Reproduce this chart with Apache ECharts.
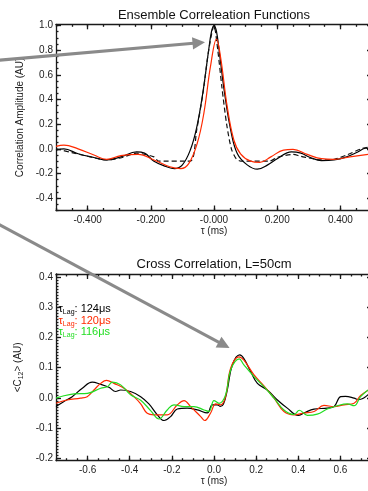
<!DOCTYPE html>
<html><head><meta charset="utf-8">
<script src="https://cdn.jsdelivr.net/npm/echarts@6/dist/echarts.min.js"></script>
<style>html,body{margin:0;padding:0;background:#fff;}#c{width:368px;height:491px;}</style>
</head><body><div id="c"></div><script>
// ---------- Ensemble correlation functions (top) ----------
const ensTauBlack = [-0.50,-0.475,-0.43,-0.38,-0.34,-0.295,-0.245,-0.22,-0.19,-0.15,-0.125,-0.10,-0.075,-0.055,-0.035,-0.018,-0.008,0.0,0.008,0.018,0.033,0.053,0.074,0.105,0.137,0.17,0.20,0.245,0.275,0.305,0.34,0.38,0.42,0.455,0.48,0.50];
const ensAmpBlack = [-0.01,0.0,-0.04,-0.07,-0.09,-0.065,-0.025,-0.035,-0.10,-0.145,-0.16,-0.13,-0.01,0.17,0.46,0.78,0.95,1.0,0.95,0.76,0.46,0.15,-0.04,-0.13,-0.165,-0.13,-0.08,-0.025,-0.035,-0.07,-0.095,-0.09,-0.065,-0.025,0.005,0.0];
const ensTauRed = [-0.50,-0.475,-0.43,-0.38,-0.34,-0.295,-0.24,-0.19,-0.14,-0.105,-0.08,-0.053,-0.032,-0.011,0.008,0.021,0.042,0.063,0.084,0.116,0.145,0.18,0.22,0.25,0.295,0.34,0.38,0.43,0.50];
const ensAmpRed = [0.02,0.03,0.0,-0.05,-0.085,-0.055,-0.045,-0.09,-0.145,-0.16,-0.12,0.045,0.29,0.67,0.89,0.74,0.34,0.07,-0.04,-0.10,-0.11,-0.065,-0.01,-0.005,-0.045,-0.08,-0.085,-0.065,-0.04];
const ensTauFit = [-0.50,-0.45,-0.40,-0.34,-0.29,-0.245,-0.19,-0.175,-0.075,-0.055,-0.035,-0.018,0.0,0.012,0.025,0.04,0.055,0.07,0.085,0.175,0.20,0.25,0.275,0.34,0.38,0.42,0.465,0.50];
const ensAmpFit = [0.0,-0.03,-0.06,-0.09,-0.07,-0.035,-0.065,-0.10,-0.10,0.15,0.45,0.78,1.0,0.80,0.50,0.20,0.0,-0.08,-0.10,-0.10,-0.07,-0.045,-0.06,-0.09,-0.085,-0.05,0.0,0.02];

// ---------- Cross correlation (bottom) ----------
const crossTauBlack = [-0.75,-0.712,-0.673,-0.625,-0.578,-0.538,-0.499,-0.467,-0.443,-0.396,-0.348,-0.309,-0.269,-0.237,-0.206,-0.174,-0.127,-0.079,-0.032,-0.008,0.016,0.03,0.045,0.063,0.087,0.122,0.142,0.174,0.206,0.253,0.301,0.348,0.40,0.427,0.475,0.538,0.57,0.601,0.624,0.665,0.687,0.75];
const crossValBlack = [-0.029,-0.012,0.004,0.032,0.052,0.045,0.035,0.021,0.026,0.021,0.004,-0.02,-0.056,-0.075,-0.062,-0.037,-0.034,-0.04,-0.05,-0.023,-0.023,-0.028,-0.02,0.026,0.109,0.142,0.13,0.087,0.048,0.026,-0.007,-0.034,-0.058,-0.05,-0.037,-0.034,-0.029,0.004,0.005,-0.001,-0.006,0.024];
const crossTauRed = [-0.75,-0.697,-0.634,-0.602,-0.57,-0.538,-0.51,-0.475,-0.427,-0.38,-0.348,-0.317,-0.285,-0.222,-0.174,-0.142,-0.111,-0.063,-0.044,-0.016,0.008,0.032,0.055,0.079,0.118,0.142,0.19,0.237,0.285,0.332,0.38,0.427,0.475,0.522,0.57,0.617,0.665,0.696,0.75];
const crossValRed = [-0.018,-0.007,-0.001,0.004,0.026,0.048,0.058,0.048,0.032,0.004,-0.02,-0.051,-0.056,-0.056,-0.023,-0.009,-0.029,-0.062,-0.075,-0.05,-0.02,-0.023,0.004,0.098,0.136,0.125,0.076,0.04,-0.001,-0.045,-0.056,-0.05,-0.045,-0.025,-0.029,-0.023,-0.018,0.008,0.032];
const crossTauGreen = [-0.75,-0.712,-0.665,-0.601,-0.538,-0.506,-0.482,-0.443,-0.396,-0.348,-0.301,-0.261,-0.222,-0.19,-0.142,-0.095,-0.047,-0.024,0.0,0.024,0.055,0.079,0.12,0.142,0.19,0.237,0.285,0.332,0.38,0.405,0.443,0.49,0.538,0.585,0.633,0.665,0.696,0.75];
const crossValGreen = [-0.001,0.007,0.013,0.015,0.032,0.037,0.052,0.043,0.01,-0.008,-0.042,-0.07,-0.04,-0.023,-0.029,-0.029,-0.04,-0.045,-0.009,-0.018,0.01,0.092,0.129,0.109,0.07,0.037,-0.001,-0.04,-0.055,-0.041,-0.058,-0.054,-0.037,-0.026,-0.02,-0.026,0.004,0.036];

// ---------- Tick labels ----------
const ensXTicks = [-0.4,-0.2,0,0.2,0.4];
const ensXLabels = ['-0.400','-0.200','-0.000','0.200','0.400'];
const ensYTicks = [-0.4,-0.2,0,0.2,0.4,0.6,0.8,1.0];
const ensYLabels = ['-0.4','-0.2','0.0','0.2','0.4','0.6','0.8','1.0'];
const crossXTicks = [-0.6,-0.4,-0.2,0,0.2,0.4,0.6];
const crossXLabels = ['-0.6','-0.4','-0.2','0.0','0.2','0.4','0.6'];
const crossYTicks = [-0.2,-0.1,0,0.1,0.2,0.3,0.4];
const crossYLabels = ['-0.2','-0.1','0.0','0.1','0.2','0.3','0.4'];

const FONT = 'Liberation Sans, Arial, Helvetica, sans-serif';
const AX = '#1a1a1a';
const zip = (a, b) => a.map((v, i) => [v, b[i]]);

function buildAxes(dim, gi, min, max, ticks, labels, minorStep, nameCfg) {
  const minors = [];
  for (let k = Math.ceil(min / minorStep - 1e-9); k * minorStep <= max + 1e-9; k++) minors.push(+(k * minorStep).toFixed(4));
  const isX = dim === 'x';
  const p1 = isX ? 'bottom' : 'left', p2 = isX ? 'top' : 'right';
  const ls = () => ({ color: AX, width: 1.3 });
  const base = () => ({ type: 'value', gridIndex: gi, min, max,
    splitLine: { show: false }, axisLabel: { show: false }, axisTick: { show: false },
    axisLine: { show: false, onZero: false } });
  const lab = (v) => { let bi = 0, bd = 1e9; ticks.forEach((t, i) => { const d = Math.abs(t - v); if (d < bd) { bd = d; bi = i; } }); return labels[bi]; };
  const main = Object.assign(base(), nameCfg, { position: p1,
    axisLine: { show: true, onZero: false, lineStyle: ls() },
    axisTick: { show: true, inside: true, length: 5, customValues: ticks.slice(), lineStyle: ls() },
    axisLabel: { show: true, customValues: ticks.slice(), formatter: lab, color: '#222', fontSize: 10, fontFamily: FONT, margin: isX ? 5 : 3, hideOverlap: false } });
  const mainMinor = Object.assign(base(), { position: p1,
    axisTick: { show: true, inside: true, length: 2.5, customValues: minors.slice(), lineStyle: ls() } });
  const opp = Object.assign(base(), { position: p2,
    axisLine: { show: true, onZero: false, lineStyle: ls() },
    axisTick: { show: true, inside: true, length: 5, customValues: ticks.slice(), lineStyle: ls() } });
  const oppMinor = Object.assign(base(), { position: p2,
    axisTick: { show: true, inside: true, length: 2.5, customValues: minors.slice(), lineStyle: ls() } });
  return [main, mainMinor, opp, oppMinor];
}

const xName = () => ({ name: 'τ (ms)', nameLocation: 'middle', nameGap: 16, nameTextStyle: { color: '#222', fontSize: 10, fontFamily: FONT } });
const xAxes = [].concat(
  buildAxes('x', 0, -0.5, 0.5, ensXTicks, ensXLabels, 0.05, xName()),
  buildAxes('x', 1, -0.75, 0.75, crossXTicks, crossXLabels, 0.05, xName())
);
const yAxes = [].concat(
  buildAxes('y', 0, -0.5, 1.01, ensYTicks, ensYLabels, 0.05, { name: 'Correlation Amplitude (AU)', nameLocation: 'middle', nameGap: 31, nameTextStyle: { color: '#222', fontSize: 10, fontFamily: FONT } }),
  buildAxes('y', 1, -0.208, 0.41, crossYTicks, crossYLabels, 0.01, { name: '{n|<C}{s|12}{n|> (AU)}', nameLocation: 'middle', nameGap: 29,
    nameTextStyle: { color: '#222', fontSize: 10, fontFamily: FONT, rich: {
      n: { fontSize: 10, fontFamily: FONT, color: '#222', lineHeight: 14, verticalAlign: 'middle' },
      s: { fontSize: 7, fontFamily: FONT, color: '#222', lineHeight: 14, verticalAlign: 'bottom' } } } })
);

function lineSeries(name, data, xi, yi, color, extra) {
  return Object.assign({ type: 'line', name, data, xAxisIndex: xi, yAxisIndex: yi, showSymbol: false, symbol: 'none',
    smooth: 0.4, clip: true, animation: false, silent: true,
    lineStyle: { color, width: 1.2 } }, extra || {});
}

const legendRich = (c) => ({
  t: { fontSize: 11, fontFamily: FONT, fill: c, lineHeight: 14, verticalAlign: 'middle' },
  s: { fontSize: 7, fontFamily: FONT, fill: c, lineHeight: 14, verticalAlign: 'bottom' }
});
const legendItems = [['124μs', '#000000', 309], ['120μs', '#ff2a00', 320.5], ['116μs', '#22dd22', 332]];

const chart = echarts.init(document.getElementById('c'), null, { renderer: 'canvas' });
chart.setOption({
  animation: false,
  backgroundColor: '#ffffff',
  grid: [
    { left: 56, top: 24.3, width: 316, height: 186.2, containLabel: false, outerBoundsMode: 'none' },
    { left: 56, top: 274, width: 316, height: 186.7, containLabel: false, outerBoundsMode: 'none' }
  ],
  xAxis: xAxes,
  yAxis: yAxes,
  series: [
    lineSeries('black', zip(ensTauBlack, ensAmpBlack), 0, 0, '#000000'),
    lineSeries('fit', zip(ensTauFit, ensAmpFit), 0, 0, '#111111', { smooth: 0.25, lineStyle: { color: '#111', width: 1.2, type: [5, 3] } }),
    lineSeries('red', zip(ensTauRed, ensAmpRed), 0, 0, '#ff2a00'),
    lineSeries('124', zip(crossTauBlack, crossValBlack), 4, 4, '#000000'),
    lineSeries('120', zip(crossTauRed, crossValRed), 4, 4, '#ff2a00'),
    lineSeries('116', zip(crossTauGreen, crossValGreen), 4, 4, '#22dd22')
  ]
});

// ---------- Titles, legend and annotation arrows ----------
const arrowTips = [[{ xAxisIndex: 0, yAxisIndex: 0 }, [-0.0285, 0.864], [-2, 60.3]], [{ xAxisIndex: 4, yAxisIndex: 4 }, [0.074, 0.165], [-2, 223.9]]];
function arrow(x0, y0, x1, y1) {
  const dx = x1 - x0, dy = y1 - y0, L = Math.hypot(dx, dy), ux = dx / L, uy = dy / L;
  const hl = 12.5, hw = 6.2, bx = x1 - ux * hl, by = y1 - uy * hl;
  return [
    { type: 'line', z: 100, shape: { x1: x0, y1: y0, x2: bx + ux, y2: by + uy }, style: { stroke: '#8a8a8a', lineWidth: 3 } },
    { type: 'polygon', z: 100, shape: { points: [[x1, y1], [bx - uy * hw, by + ux * hw], [bx + uy * hw, by - ux * hw]] }, style: { fill: '#8a8a8a' } }
  ];
}
let graphicEls = [
  { type: 'text', x: 214, y: 15, style: { text: 'Ensemble Correleation Functions', fill: '#111', font: '13px ' + FONT, textAlign: 'center', textVerticalAlign: 'middle' } },
  { type: 'text', x: 214, y: 264, style: { text: 'Cross Correlation, L=50cm', fill: '#111', font: '13px ' + FONT, textAlign: 'center', textVerticalAlign: 'middle' } }
].concat(legendItems.map(([v, c, y]) => ({
  type: 'text', x: 58.5, y, z: 50, style: { text: '{t|τ}{s|Lag}{t|: ' + v + '}', fill: c, rich: legendRich(c), textVerticalAlign: 'middle' }
})));
arrowTips.forEach(([finder, tip, start]) => {
  const p = chart.convertToPixel(finder, tip);
  graphicEls = graphicEls.concat(arrow(start[0], start[1], p[0], p[1]));
});
chart.setOption({ graphic: { elements: graphicEls } });
</script></body></html>
